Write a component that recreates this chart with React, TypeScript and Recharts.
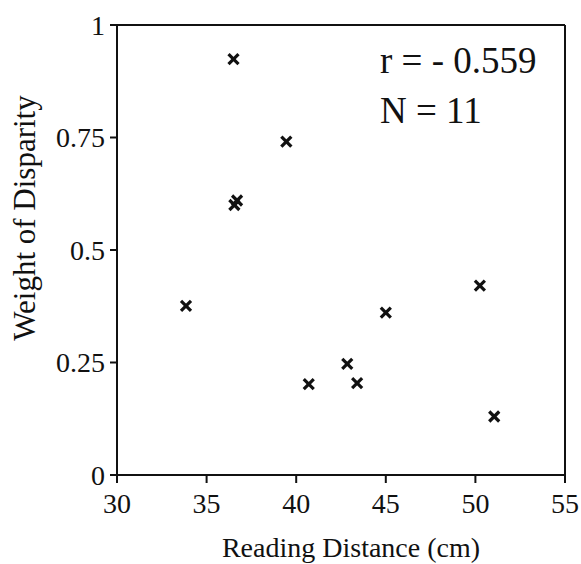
import React from 'react';
import { ScatterChart, Scatter, XAxis, YAxis, ReferenceLine, Label } from 'recharts';

const readingDistance = [36.5, 39.45, 36.55, 36.7, 33.85, 50.25, 45.0, 42.85, 40.7, 43.4, 51.05];
const weightOfDisparity = [0.924, 0.741, 0.6, 0.61, 0.376, 0.421, 0.361, 0.247, 0.202, 0.204, 0.13];
const xTicks = [30, 35, 40, 45, 50, 55];
const yTicks = [0, 0.25, 0.5, 0.75, 1];
const annotationLines = ['r = - 0.559', 'N = 11'];
const xTitle = 'Reading Distance (cm)';
const yTitle = 'Weight of Disparity';

const data = readingDistance.map((x, i) => ({ x, y: weightOfDisparity[i] }));

const FONT = '"Liberation Serif", "Times New Roman", serif';
const INK = '#111';

const Cross = (props: any) => {
  const { cx, cy } = props;
  const s = 5;
  return (
    <g stroke={INK} strokeWidth={3.2}>
      <line x1={cx - s} y1={cy - s} x2={cx + s} y2={cy + s} />
      <line x1={cx - s} y1={cy + s} x2={cx + s} y2={cy - s} />
    </g>
  );
};

const XTitle = () => (
  <text x={351} y={557} textAnchor="middle" fontSize={28} fontFamily={FONT} fill={INK}>
    {xTitle}
  </text>
);

const YTitle = () => (
  <text
    x={24}
    y={218}
    textAnchor="middle"
    dominantBaseline="central"
    fontSize={31}
    fontFamily={FONT}
    fill={INK}
    transform="rotate(-90 24 218)"
  >
    {yTitle}
  </text>
);

const Annotation = () => (
  <g>
    <text x={380} y={73} fontSize={37} fontFamily={FONT} fill={INK}>
      {annotationLines[0]}
    </text>
    <text x={380} y={123} fontSize={37} fontFamily={FONT} fill={INK}>
      {annotationLines[1]}
    </text>
  </g>
);

export default function App() {
  return (
    <div style={{ position: 'absolute', left: 0, top: 0, width: 581, height: 564, background: '#fff' }}>
      <ScatterChart
        width={581}
        height={564}
        margin={{ top: 25, right: 16, left: 0, bottom: 0 }}
      >
        <XAxis
          type="number"
          dataKey="x"
          domain={[30, 55]}
          ticks={xTicks}
          height={89}
          tickSize={8}
          tickMargin={10}
          stroke={INK}
          strokeWidth={2}
          tick={{ fontSize: 28, fontFamily: FONT, fill: INK }}
          tickLine={{ stroke: INK, strokeWidth: 2 }}
        >
          <Label content={<XTitle />} />
        </XAxis>
        <YAxis
          type="number"
          dataKey="y"
          domain={[0, 1]}
          ticks={yTicks}
          width={117}
          tickSize={7}
          tickMargin={5}
          stroke={INK}
          strokeWidth={2}
          tick={{ fontSize: 28, fontFamily: FONT, fill: INK }}
          tickLine={{ stroke: INK, strokeWidth: 2 }}
        >
          <Label content={<YTitle />} />
        </YAxis>
        <ReferenceLine y={1} stroke={INK} strokeWidth={2} ifOverflow="visible">
          <Label content={<Annotation />} />
        </ReferenceLine>
        <ReferenceLine x={55} stroke={INK} strokeWidth={2} ifOverflow="visible" />
        <Scatter data={data} shape={<Cross />} isAnimationActive={false} />
      </ScatterChart>
    </div>
  );
}
